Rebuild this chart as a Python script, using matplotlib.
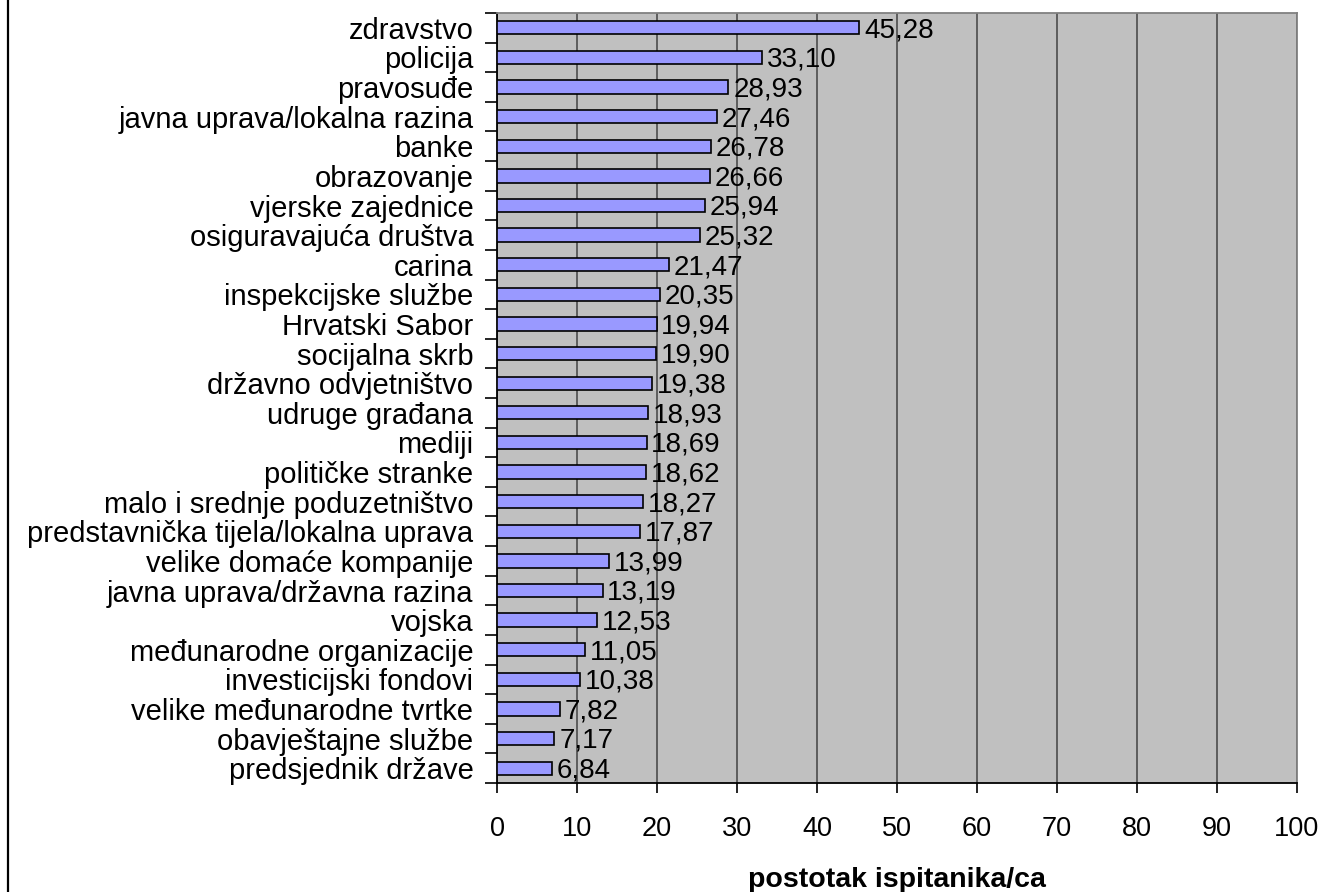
import matplotlib
matplotlib.use("Agg")
import matplotlib.pyplot as plt
from matplotlib.lines import Line2D
import numpy as np

plt.rcParams['font.family'] = ['Liberation Sans', 'DejaVu Sans']

# institucije, od vrha prema dnu
categories = [
    "zdravstvo", "policija", "pravosuđe", "javna uprava/lokalna razina",
    "banke", "obrazovanje", "vjerske zajednice", "osiguravajuća društva",
    "carina", "inspekcijske službe", "Hrvatski Sabor", "socijalna skrb",
    "državno odvjetništvo", "udruge građana", "mediji", "političke stranke",
    "malo i srednje poduzetništvo", "predstavnička tijela/lokalna uprava",
    "velike domaće kompanije", "javna uprava/državna razina", "vojska",
    "međunarodne organizacije", "investicijski fondovi",
    "velike međunarodne tvrtke", "obavještajne službe", "predsjednik države",
]
values = [45.28, 33.10, 28.93, 27.46, 26.78, 26.66, 25.94, 25.32, 21.47,
          20.35, 19.94, 19.90, 19.38, 18.93, 18.69, 18.62, 18.27, 17.87,
          13.99, 13.19, 12.53, 11.05, 10.38, 7.82, 7.17, 6.84]
x_ticks = list(range(0, 101, 10))


def main():
    fig = plt.figure(figsize=(13.24, 8.92), dpi=100)
    ax = fig.add_axes([0.3754, 0.1222, 0.6042, 0.8632])
    ax.set_facecolor('#C0C0C0')

    y = np.arange(len(categories))
    ax.barh(y, values, height=0.45, color='#9999FF', edgecolor='black',
            linewidth=1.2, zorder=3)

    for yi, v in zip(y, values):
        label = f"{v:.2f}".replace('.', ',')
        ax.text(v + 0.6, yi + 0.08, label, va='center', ha='left',
                fontsize=20, color='black', zorder=4)

    ax.set_xlim(0, 100)
    ax.set_ylim(len(categories) - 0.5, -0.5)
    ax.set_xticks(x_ticks)
    ax.set_xticklabels([str(t) for t in x_ticks], fontsize=19.5)
    ax.set_yticks(y)
    ax.set_yticklabels(categories, fontsize=21)
    ax.set_yticks(np.arange(len(categories) + 1) - 0.5, minor=True)

    ax.tick_params(axis='y', which='major', length=0, pad=17)
    ax.tick_params(axis='y', which='minor', length=8.6, width=1.2,
                   direction='out', color='black')
    ax.tick_params(axis='x', which='major', length=7, width=1.2,
                   direction='out', pad=17, color='black')

    ax.xaxis.grid(True, color='#555555', linewidth=1.3, zorder=1)
    ax.set_axisbelow(True)

    for side in ['left', 'bottom']:
        ax.spines[side].set_color('black')
        ax.spines[side].set_linewidth(1.3)
    for side in ['top', 'right']:
        ax.spines[side].set_color('#808080')
        ax.spines[side].set_linewidth(1.3)

    ax.set_xlabel('postotak ispitanika/ca', fontsize=20.5, fontweight='bold',
                  labelpad=18)

    # rub grafikona lijevo
    fig.add_artist(Line2D([0.0058, 0.0058], [0, 1], color='black',
                          linewidth=1.6, transform=fig.transFigure))

    fig.savefig('out.png', dpi=100)


if __name__ == "__main__":
    main()
